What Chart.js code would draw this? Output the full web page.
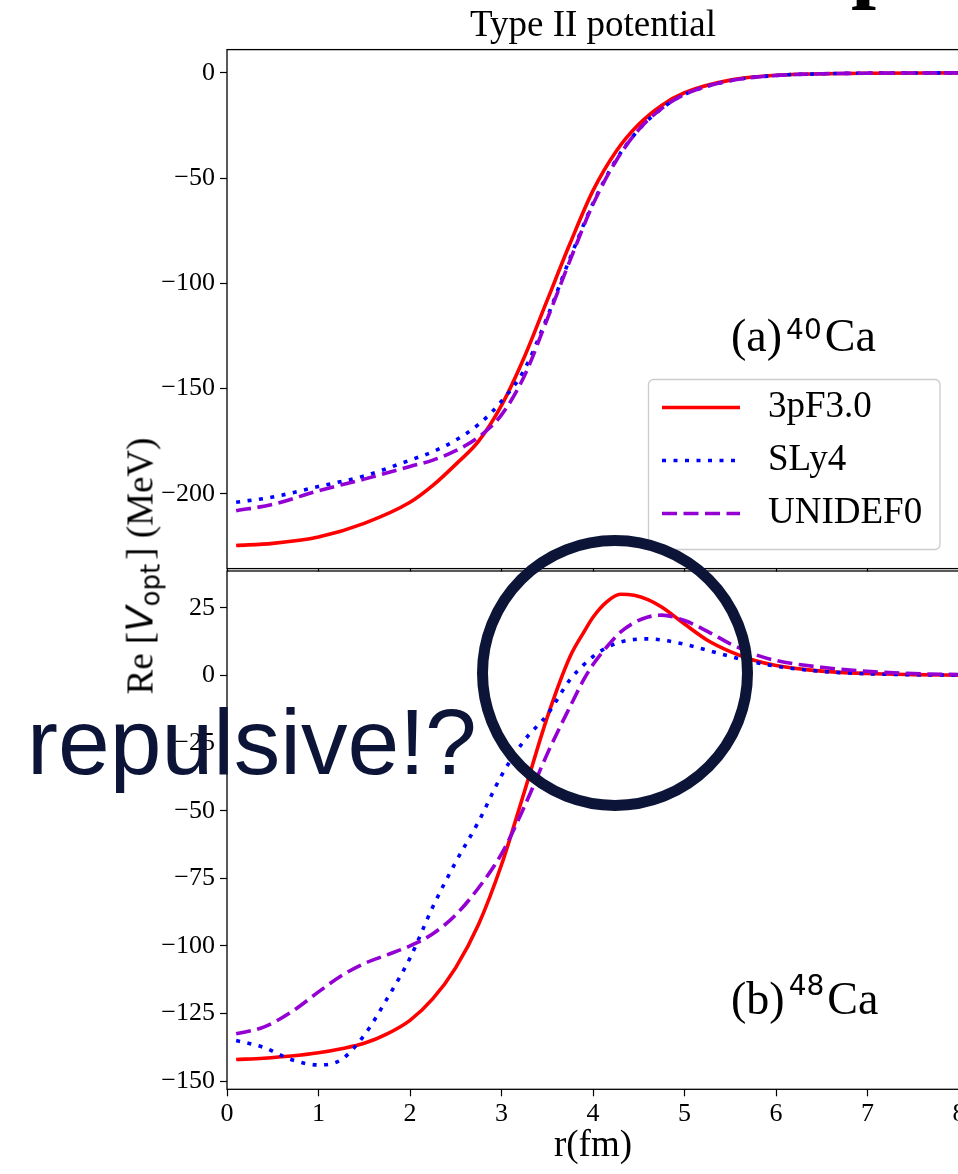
<!DOCTYPE html>
<html>
<head>
<meta charset="utf-8">
<title>Type II potential</title>
<script src="https://cdn.jsdelivr.net/npm/chart.js@4.4.1/dist/chart.umd.min.js"></script>
<style>
  body { margin: 0; background: #fff; overflow: hidden; }
  #page { position: relative; width: 958px; height: 1174px; overflow: hidden; background: #fff; }
  .box { position: absolute; left: 0; width: 1000px; }
  #topBox { top: 0; height: 600px; }
  #botBox { top: 540px; height: 634px; }
  #cut { position: absolute; left: 851px; top: -84px; font: bold 90px/1 'Liberation Serif', serif; color: #000; }
  #ylab { position: absolute; left: 140px; top: 566px; transform: translate(-50%, -50%) rotate(-90deg);
          white-space: nowrap; font: 37px/1 'Liberation Serif', serif; color: #000; }
  #ylab .mv { font-family: 'DejaVu Sans', sans-serif; font-style: italic; }
  #ylab .sub { font-family: 'DejaVu Sans', sans-serif; font-size: 26px; position: relative; top: 7px; margin-right: 4px; }
  .ann { position: absolute; white-space: nowrap; font: 46px/1 'Liberation Serif', serif; color: #000; }
  .ann .sup { display: inline-block; font: 28px/1 'DejaVu Sans', sans-serif; margin: 0 3px 0 4px; }
  #annA { left: 731px; top: 313px; }
  #annA .sup { transform: translateY(-12px); }
  #annB { left: 731px; top: 976px; }
  #annB .sup { transform: translateY(-19px); }
  #circle { position: absolute; left: 477px; top: 535px; width: 276px; height: 276px; box-sizing: border-box;
            border: 11px solid #0c1537; border-radius: 50%; }
  #rep { position: absolute; left: 27px; top: 696px; font: 93px/1 'Liberation Sans', Arial, sans-serif; color: #0c1537; white-space: nowrap; }
</style>
</head>
<body>
<div id="page">
  <span id="cut">p</span>
  <div class="box" id="topBox"><canvas id="chartTop"></canvas></div>
  <div class="box" id="botBox"><canvas id="chartBot"></canvas></div>
  <div id="ylab">Re [<span class="mv">V</span><span class="sub">opt</span>] (MeV)</div>
  <div class="ann" id="annA">(a)<span class="sup">40</span>Ca</div>
  <div class="ann" id="annB">(b)<span class="sup">48</span>Ca</div>
  <div id="circle"></div>
  <div id="rep">repulsive!?</div>
</div>
<script>
// series names
const seriesNames = ['3pF3.0', 'SLy4', 'UNIDEF0'];

// (a) 40Ca, r in fm, Re V_opt in MeV
const rTop = [0.1, 0.5, 1.0, 1.5, 2.0, 2.25, 2.5, 2.75, 3.0, 3.25, 3.5, 3.75, 4.0, 4.25, 4.5, 4.75, 5.0, 5.5, 6.0, 6.5, 7.0, 8.0];
const top3pF = [-224.5, -223.5, -220.5, -214, -204, -196, -186, -175, -158, -135, -108, -81, -56, -37.5, -24.5, -15.5, -9.5, -3.5, -1.2, -0.5, -0.2, -0.05];
const topSLy4 = [-204, -201.5, -196.5, -191.5, -184, -180, -174.5, -167, -156, -141, -116, -88, -62, -41.5, -27, -17, -10.3, -3.8, -1.3, -0.5, -0.2, -0.05];
const topUNIDEF0 = [-208, -205, -198.5, -193, -187, -184, -179.5, -173, -162.5, -144, -117, -89, -62.5, -42, -27, -17, -10.3, -3.8, -1.3, -0.5, -0.2, -0.05];

// (b) 48Ca
const rBot = [0.1, 0.4, 0.7, 1.0, 1.25, 1.5, 1.75, 2.0, 2.25, 2.5, 2.75, 3.0, 3.25, 3.5, 3.75, 3.9, 4.0, 4.15, 4.3, 4.45, 4.6, 4.75, 5.0, 5.25, 5.5, 5.75, 6.0, 6.5, 7.0, 7.5, 8.0];
const bot3pF = [-142, -141.5, -140.7, -139.5, -138, -136, -132.5, -127.5, -119.5, -108, -92, -70, -43, -15.5, 7, 16, 21.5, 27.2, 30, 29.6, 28, 25.3, 19, 13, 8.8, 5.7, 3.7, 1.6, 0.7, 0.3, 0.1];
const botSLy4 = [-135, -137.5, -142, -144, -142, -133, -119.5, -104.5, -85.5, -69, -54, -37, -24, -14.5, -1.5, 4, 7, 10.3, 12.3, 13.3, 13.5, 13.1, 11.5, 9.3, 7, 5, 3.4, 1.5, 0.6, 0.25, 0.1];
const botUNIDEF0 = [-132.5, -130, -124.5, -117, -111, -106.5, -103.3, -100, -95.5, -88.5, -78.5, -66, -48.5, -29, -11.5, -1.5, 4, 10.5, 16, 19.5, 21.6, 22.3, 20.3, 16.3, 11.7, 8, 5.5, 3, 1.5, 0.7, 0.3];

// tick values
const xTicks = [0, 1, 2, 3, 4, 5, 6, 7, 8];
const yTicksTop = [0, -50, -100, -150, -200];
const yTicksBot = [25, 0, -25, -50, -75, -100, -125, -150];

Chart.defaults.font.family = "'Liberation Serif', 'Times New Roman', serif";
Chart.defaults.color = '#000';

const styles = [
  { color: '#ff0000', dash: [], order: 3 },
  { color: '#0000ff', dash: [4, 7.5], order: 2 },
  { color: '#9400d3', dash: [15, 6.5], order: 1 }
];

function makeSets(r, lists) {
  return lists.map(function (vals, i) {
    return {
      label: seriesNames[i],
      data: r.map(function (x, j) { return { x: x, y: vals[j] }; }),
      borderColor: styles[i].color,
      borderDash: styles[i].dash,
      borderWidth: 3.6,
      borderCapStyle: 'butt',
      pointRadius: 0,
      cubicInterpolationMode: 'monotone',
      fill: false,
      order: styles[i].order
    };
  });
}

const minus = function (v) { return String(v).replace('-', '\u2212'); };

function xScale(showLabels) {
  return {
    type: 'linear', min: 0, max: 8,
    afterBuildTicks: function (ax) { ax.ticks = xTicks.map(function (v) { return { value: v }; }); },
    ticks: { display: showLabels, padding: 2, font: { size: 26 }, color: '#000', autoSkip: false, maxRotation: 0 },
    grid: { drawOnChartArea: false, tickLength: showLabels ? 7 : 3, tickColor: '#000', tickWidth: 1.2 },
    border: { display: false },
    title: showLabels
      ? { display: true, text: 'r(fm)', font: { size: 37 }, color: '#000', padding: { top: 0, bottom: 5.8 } }
      : { display: false },
    afterFit: function (ax) { ax.height = showLabels ? 84.7 : 31.4; }
  };
}

function yScale(min, max, ticks) {
  return {
    type: 'linear', min: min, max: max,
    afterBuildTicks: function (ax) { ax.ticks = ticks.map(function (v) { return { value: v }; }); },
    ticks: { padding: 5, font: { size: 26 }, color: '#000', autoSkip: false, callback: minus },
    grid: { drawOnChartArea: false, tickLength: 7, tickColor: '#000', tickWidth: 1.2 },
    border: { display: false },
    afterFit: function (ax) { ax.width = 227; }
  };
}

// axes box round the plot
const frame = {
  id: 'frame',
  afterDatasetsDraw: function (chart) {
    const a = chart.chartArea, ctx = chart.ctx;
    ctx.save();
    ctx.strokeStyle = '#000';
    ctx.lineWidth = 1.3;
    ctx.strokeRect(a.left, a.top, a.right - a.left, a.bottom - a.top);
    ctx.restore();
  }
};

// matplotlib-like legend inside panel (a)
const boxLegend = {
  id: 'boxLegend',
  afterDraw: function (chart) {
    const ctx = chart.ctx;
    ctx.save();
    ctx.beginPath();
    ctx.roundRect(648.5, 379.5, 291.5, 170, 5);
    ctx.fillStyle = 'rgba(255,255,255,0.8)';
    ctx.fill();
    ctx.strokeStyle = '#cccccc';
    ctx.lineWidth = 1.3;
    ctx.stroke();
    chart.data.datasets.forEach(function (ds, i) {
      const y = 407.5 + i * 53;
      ctx.beginPath();
      ctx.setLineDash(ds.borderDash);
      ctx.lineCap = 'butt';
      ctx.strokeStyle = ds.borderColor;
      ctx.lineWidth = ds.borderWidth;
      ctx.moveTo(662, y);
      ctx.lineTo(740, y);
      ctx.stroke();
      ctx.setLineDash([]);
      ctx.fillStyle = '#000';
      ctx.font = "37px 'Liberation Serif', serif";
      ctx.textBaseline = 'middle';
      ctx.fillText(ds.label, 768, y);
    });
    ctx.restore();
  }
};

new Chart(document.getElementById('chartTop'), {
  type: 'line',
  data: { datasets: makeSets(rTop, [top3pF, topSLy4, topUNIDEF0]) },
  options: {
    responsive: true, maintainAspectRatio: false, animation: false, devicePixelRatio: 1,
    layout: { padding: { left: 0, right: 41, top: 0, bottom: 0 } },
    plugins: {
      legend: { display: false },
      tooltip: { enabled: false },
      title: { display: true, text: 'Type II potential', fullSize: false, color: '#000',
               font: { size: 37, weight: 'normal' }, padding: { top: 4, bottom: 1.2 } }
    },
    scales: { x: xScale(false), y: yScale(-235.5, 11, yTicksTop) }
  },
  plugins: [frame, boxLegend]
});

new Chart(document.getElementById('chartBot'), {
  type: 'line',
  data: { datasets: makeSets(rBot, [bot3pF, botSLy4, botUNIDEF0]) },
  options: {
    responsive: true, maintainAspectRatio: false, animation: false, devicePixelRatio: 1,
    layout: { padding: { left: 0, right: 41, top: 31, bottom: 0 } },
    plugins: { legend: { display: false }, tooltip: { enabled: false } },
    scales: { x: xScale(true), y: yScale(-153, 38.6, yTicksBot) }
  },
  plugins: [frame]
});
</script>
</body>
</html>
